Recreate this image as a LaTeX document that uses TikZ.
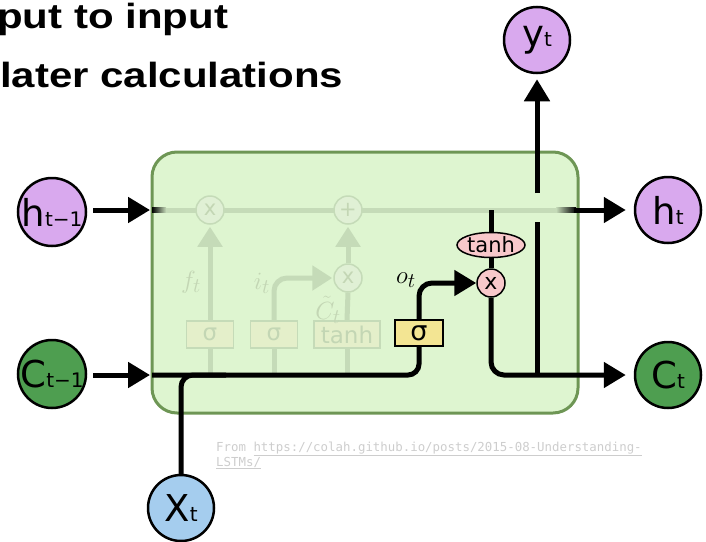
\documentclass[tikz,border=0pt]{standalone}
\usepackage{fontspec}
\setmainfont{DejaVu Sans}
\newfontfamily\titlefont[FakeStretch=1.2]{Liberation Sans}
\newfontfamily\citefont{DejaVu Sans Mono}
\usetikzlibrary{arrows.meta,shapes.geometric}
\definecolor{cellfill}{HTML}{DEF5D0}
\definecolor{cellborder}{HTML}{6E9655}
\definecolor{fdcol}{HTML}{C5DBB8}
\definecolor{fdtxt}{HTML}{C3D6B4}
\definecolor{fdbox}{HTML}{E4EFCA}
\definecolor{fdcfill}{HTML}{E0F0D5}
\definecolor{hcol}{HTML}{D9A9EE}
\definecolor{ccol}{HTML}{4E9E50}
\definecolor{xcol}{HTML}{A5CDEE}
\definecolor{sigyel}{HTML}{F3E593}
\definecolor{pinkc}{HTML}{F8C8CB}
\definecolor{citegray}{HTML}{CDCDCD}
\newcommand{\ctxt}[2]{{\fontsize{37}{37}\selectfont #1}{\fontsize{20}{20}\selectfont #2}}
\begin{document}
\begin{tikzpicture}[x=1pt,y=-1pt,
  blk/.style={line width=5pt, black},
  arr/.style={blk, -{Triangle[length=22pt,width=25pt]}},
  fdl/.style={line width=5pt, fdcol},
  fdarr/.style={fdl, -{Triangle[length=20pt,width=24pt]}},
  bigcirc/.style={circle, draw=black, line width=2.5pt, minimum size=66pt, inner sep=0pt},
  fadebox/.style={draw=fdcol, line width=1.5pt, fill=fdbox, minimum width=47pt, minimum height=27pt, inner sep=0pt, text=fdtxt, font=\fontsize{23}{23}\selectfont},
  fadecirc/.style={circle, draw=fdcol, line width=1.5pt, fill=fdcfill, minimum size=28pt, inner sep=0pt, text=fdtxt, font=\fontsize{21}{21}\selectfont},
  mathlbl/.style={inner sep=0pt, font=\fontsize{24.88}{24.88}\selectfont},
  titletxt/.style={anchor=base west, inner sep=0pt, font=\titlefont\bfseries\fontsize{35}{35}\selectfont}
]
\useasboundingbox (0,0) rectangle (706,541);

% title
\node[titletxt] (title1) at (-3,28) {put to input};
\node[titletxt] (title2) at (0,87) {later calculations};

% cell
\node[draw=cellborder, line width=3pt, fill=cellfill, rounded corners=25pt, minimum width=426pt, minimum height=261pt, inner sep=0pt] (cell) at (365,282.5) {};

\coordinate (hL) at (152,210);
\coordinate (hR) at (578,210);
\coordinate (hin) at (150,210);
\coordinate (cin) at (150,375);
\coordinate (cstart) at (152,375);
\coordinate (hout) at (574,210);
\coordinate (ttop) at (491,210);
\coordinate (ylow) at (537,375);
\coordinate (ymid) at (537,222);
\coordinate (yup) at (537,193);

% faded content
\draw[fdl] (hL) -- (hR);
\shade[left color=black, right color=fdcol] (152,207.5) rectangle (166,212.5);
\shade[left color=fdcol, right color=black] (556,207.5) rectangle (576,212.5);

\node[fadebox] (sf) at (210,334.5) {σ};
\node[fadebox] (si) at (274,334.5) {σ};
\node[fadebox, minimum width=66pt] (st) at (347,334.5) {tanh};
\node[fadecirc] (fmul) at (210,210) {x};
\node[fadecirc] (fadd) at (348,210) {+};
\node[fadecirc] (imul) at (348,278) {x};

\draw[fdl] (sf.south |- cin) -- (sf.south);
\draw[fdl] (si.south |- cin) -- (si.south);
\draw[fdl] (st.south |- cin) -- (st.south);
\draw[fdarr, shorten >=2pt] (sf.north) -- (fmul.south);
\draw[fdarr, rounded corners=13pt, shorten >=1pt] (si.north) -- (si.north |- imul.west) -- (imul.west);
\draw[fdl] (st.north) -- (imul.south);
\draw[fdarr, shorten >=2pt] (imul.north) -- (fadd.south);

\node[mathlbl, text=fdtxt] (flab) at (191,282) {$f_t$};
\node[mathlbl, text=fdtxt] (ilab) at (262,283) {$i_t$};
\node[mathlbl, text=fdtxt] (clab) at (328,310) {$\tilde{C}_t$};

% active nodes
\node[draw=black, line width=1.5pt, fill=sigyel, minimum width=48pt, minimum height=26pt, inner sep=0pt, font=\fontsize{27}{27}\selectfont] (sig) at (419,333) {σ};
\node[ellipse, draw=black, line width=1.5pt, fill=pinkc, minimum width=68pt, minimum height=25pt, inner sep=0pt, font=\fontsize{21}{21}\selectfont] (tanh) at (491,245) {tanh};
\node[circle, draw=black, line width=1.5pt, fill=pinkc, minimum size=28pt, inner sep=0pt, font=\fontsize{22}{22}\selectfont] (mul) at (491,283) {x};
\node[mathlbl] (olab) at (406,280) {$o_t$};

% outer circles
\node[bigcirc, fill=hcol, minimum size=68pt, label={center:\ctxt{h}{t−1}}] (hprev) at (52,212) {};
\node[bigcirc, fill=ccol, minimum size=68pt, label={center:\ctxt{C}{t−1}}] (cprev) at (52,374) {};
\node[bigcirc, fill=xcol, label={center:\ctxt{X}{t}}] (xt) at (181,508) {};
\node[bigcirc, fill=hcol, label={center:\ctxt{y}{t}}] (yt) at (537,40) {};
\node[bigcirc, fill=hcol, label={center:\ctxt{h}{t}}] (ht) at (668,210) {};
\node[bigcirc, fill=ccol, label={center:\ctxt{C}{t}}] (ct) at (668,375) {};

% black connectors
\draw[arr, shorten <=6pt] (hprev.east |- hin) -- (hin);
\draw[arr, shorten <=6pt] (cprev.east |- cin) -- (cin);
\draw[blk, rounded corners=11pt] (cstart) -- (sig.south |- cin) -- (sig.south);
\draw[blk, rounded corners=12pt] (xt.north) -- (xt.north |- cin) -- ++(45,0);
\draw[arr, rounded corners=13pt] (sig.north) -- (sig.north |- mul.west) -- (mul.west);
\draw[blk] (ttop) -- (tanh.north);
\draw[blk] (tanh.south) -- (mul.north);
\draw[arr, rounded corners=13pt, shorten >=8pt] (mul.south) -- (mul.south |- ct.west) -- (ct.west);
\draw[blk] (ylow) -- (ymid);
\draw[arr, shorten >=5pt] (yup) -- (yup |- yt.south);
\draw[arr, shorten >=8pt] (hout) -- (ht.west);

% citation
\node[anchor=base west, inner sep=0pt, text=citegray, font=\citefont\fontsize{12.4}{12.4}\selectfont] (cite1) at (216,451) {From \underline{https://colah.github.io/posts/2015-08-Understanding-}};
\node[anchor=base west, inner sep=0pt, text=citegray, font=\citefont\fontsize{12.4}{12.4}\selectfont] (cite2) at (216,466) {\underline{LSTMs/}};
\end{tikzpicture}
\end{document}
